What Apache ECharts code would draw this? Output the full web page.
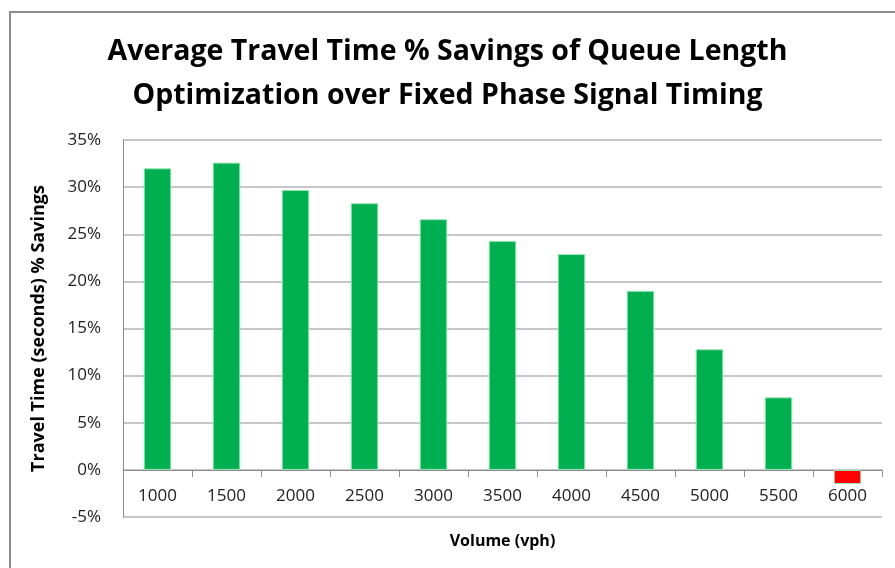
<!DOCTYPE html>
<html>
<head>
<meta charset="utf-8">
<script src="https://cdn.jsdelivr.net/npm/echarts@6/dist/echarts.min.js"></script>
<style>
  html, body { margin: 0; padding: 0; background: #fff; }
  #chart { width: 895px; height: 568px; }
</style>
</head>
<body>
<div id="chart"></div>
<script>
// 数据
var volumes = ['1000', '1500', '2000', '2500', '3000', '3500', '4000', '4500', '5000', '5500', '6000'];
var savings = [32.0, 32.6, 29.7, 28.3, 26.6, 24.3, 22.9, 19.0, 12.8, 7.7, -1.5];
var yTicks = [-5, 0, 5, 10, 15, 20, 25, 30, 35];

var chart = echarts.init(document.getElementById('chart'));
var font = '"Open Sans", "Liberation Sans", sans-serif';

chart.setOption({
    animation: false,
    backgroundColor: '#fff',
    title: {
        text: 'Average Travel Time % Savings of Queue Length\nOptimization over Fixed Phase Signal Timing',
        left: 'center',
        top: 25,
        textStyle: {
            fontFamily: font,
            fontWeight: 'bold',
            fontSize: 28.5,
            lineHeight: 44,
            color: '#000'
        }
    },
    graphic: [{
        // 外框
        type: 'rect',
        shape: { x: 10, y: 12, width: 900, height: 600 },
        style: { fill: 'none', stroke: '#8c8c8c', lineWidth: 2 },
        silent: true
    }],
    grid: { left: 123, right: 13, top: 140, bottom: 51, outerBoundsMode: 'none' },
    xAxis: {
        type: 'category',
        data: volumes,
        name: 'Volume (vph)',
        nameLocation: 'middle',
        nameGap: 16,
        nameTextStyle: { fontFamily: font, fontWeight: 'bold', fontSize: 16, color: '#000' },
        axisLine: { onZero: true, lineStyle: { color: '#8c8c8c', width: 1 } },
        axisTick: { show: true, alignWithLabel: false, length: 7, lineStyle: { color: '#8c8c8c' } },
        axisLabel: { margin: -29, fontFamily: font, fontSize: 17, color: '#222' }
    },
    yAxis: {
        type: 'value',
        min: yTicks[0],
        max: yTicks[yTicks.length - 1],
        interval: 5,
        name: 'Travel Time (seconds) % Savings',
        nameLocation: 'middle',
        nameGap: 75,
        nameTextStyle: { fontFamily: font, fontWeight: 'bold', fontSize: 18, color: '#000' },
        axisLine: { show: true, lineStyle: { color: '#8c8c8c' } },
        axisTick: { show: false },
        splitLine: { lineStyle: { color: '#b4b4b4', width: 1.5 } },
        axisLabel: {
            margin: 22,
            fontFamily: font,
            fontSize: 17,
            color: '#222',
            formatter: function (v) { return v + '%'; }
        }
    },
    series: [{
        type: 'bar',
        data: savings,
        barWidth: '40%',
        itemStyle: {
            color: function (p) { return p.value < 0 ? '#ff0000' : '#00b050'; },
            borderColor: '#9ee6b8',
            borderWidth: 1
        }
    }]
});
</script>
</body>
</html>
